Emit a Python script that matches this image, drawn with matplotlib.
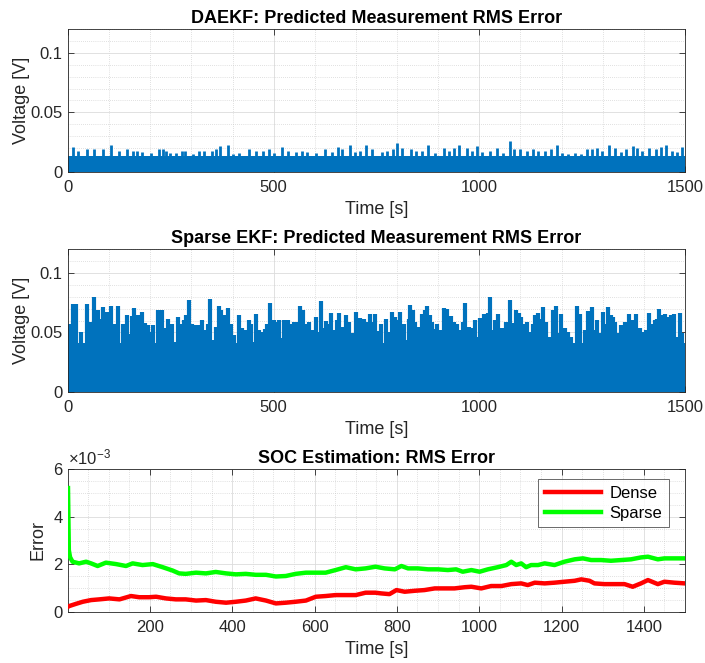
import matplotlib
matplotlib.use("Agg")
import matplotlib.pyplot as plt
from matplotlib.ticker import MultipleLocator, FixedLocator
import numpy as np

plt.rcParams['font.family'] = ['Liberation Sans', 'DejaVu Sans']
plt.rcParams['mathtext.fontset'] = 'custom'
plt.rcParams['mathtext.rm'] = 'Liberation Sans'
plt.rcParams['mathtext.it'] = 'Liberation Sans:italic'

# ---------------- data ----------------
titles = ["DAEKF: Predicted Measurement RMS Error",
          "Sparse EKF: Predicted Measurement RMS Error",
          "SOC Estimation: RMS Error"]
volt_ticks = [0, 0.05, 0.1]
volt_ticklabels = ["0", "0.05", "0.1"]
time_ticks_top = [0, 500, 1000, 1500]
time_ticks_soc = [200, 400, 600, 800, 1000, 1200, 1400]
soc_ticks = [0, 2, 4, 6]          # x 1e-3

# DAEKF residual: dense band level and spike peaks
daekf_band_t = [0, 1500]
daekf_band_v = [0.0132, 0.0132]
daekf_spike_t = [11, 24, 45, 64, 86, 104, 124, 143, 157, 167, 181, 202, 221, 230, 238, 248, 263, 277, 285, 303,
                 319, 331, 349, 360, 369, 388, 400, 416, 439, 457, 473, 489, 501, 521, 536, 554, 568, 582, 602, 625,
                 641, 657, 667, 685, 698, 711, 725, 738, 763, 775, 791, 801, 811, 834, 847, 860, 874, 892, 913, 926,
                 939, 951, 969, 981, 994, 1007, 1026, 1042, 1058, 1074, 1085, 1098, 1115, 1131, 1143, 1159, 1174, 1190, 1202, 1216,
                 1233, 1247, 1261, 1273, 1285, 1298, 1316, 1329, 1345, 1357, 1373, 1384, 1396, 1412, 1429, 1441, 1453, 1468, 1480, 1492]
daekf_spike_v = [0.021, 0.018, 0.019, 0.0195, 0.019, 0.0225, 0.018, 0.019, 0.018, 0.018, 0.017, 0.016, 0.0195, 0.019, 0.018, 0.016, 0.016, 0.018, 0.018, 0.0155,
                 0.018, 0.018, 0.018, 0.0195, 0.022, 0.023, 0.015, 0.016, 0.0195, 0.018, 0.018, 0.019, 0.016, 0.021, 0.018, 0.017, 0.018, 0.017, 0.016, 0.019,
                 0.017, 0.021, 0.0195, 0.0225, 0.017, 0.018, 0.0225, 0.019, 0.017, 0.018, 0.0195, 0.0245, 0.020, 0.019, 0.018, 0.018, 0.0225, 0.016, 0.020, 0.018,
                 0.020, 0.0225, 0.020, 0.018, 0.022, 0.017, 0.018, 0.020, 0.016, 0.026, 0.019, 0.019, 0.018, 0.019, 0.018, 0.018, 0.019, 0.023, 0.016, 0.015,
                 0.016, 0.0155, 0.019, 0.0195, 0.020, 0.018, 0.023, 0.020, 0.017, 0.019, 0.022, 0.020, 0.018, 0.020, 0.019, 0.021, 0.0225, 0.018, 0.017, 0.021]

# Sparse EKF residual: dense band level and spike peaks (time [s], voltage [V])
sparse_band_t = [0, 1500]
sparse_band_v = [0.041, 0.041]
sparse_spikes = [
    (2, 0.057), (10, 0.057), (13, 0.074), (19, 0.074), (32, 0.050), (45, 0.074), (56, 0.059), (64, 0.080),
    (74, 0.069), (80, 0.0615), (86, 0.0716), (91, 0.0588), (96, 0.067), (104, 0.0725), (113, 0.0574),
    (121, 0.0725), (133, 0.0574), (143, 0.0642), (149, 0.049), (156, 0.0634), (161, 0.0705), (169, 0.0642),
    (181, 0.067), (188, 0.058), (194, 0.056), (198, 0.0505), (206, 0.056), (218, 0.0692), (228, 0.0692),
    (234, 0.0533), (242, 0.0615), (253, 0.0574), (258, 0.0423), (267, 0.0629), (275, 0.0574), (283, 0.0607),
    (288, 0.0642), (293, 0.0771), (301, 0.0574), (311, 0.056), (319, 0.056), (326, 0.0607), (331, 0.0519),
    (340, 0.0574), (346, 0.078), (352, 0.0437), (360, 0.0547), (366, 0.0725), (372, 0.0684), (380, 0.0642),
    (388, 0.0705), (396, 0.0574), (404, 0.0478), (415, 0.0642), (423, 0.0533), (431, 0.0519), (439, 0.0607),
    (446, 0.0574), (453, 0.0423), (457, 0.0656), (465, 0.0519), (473, 0.0505), (480, 0.053), (485, 0.0574),
    (492, 0.0744), (502, 0.0607),
    (504, 0.0588), (512, 0.0601), (519, 0.0451), (524, 0.0607), (530, 0.0533), (536, 0.0607), (543, 0.0574),
    (549, 0.0588), (557, 0.0588), (563, 0.0725), (571, 0.0684), (577, 0.0574), (585, 0.0588), (593, 0.0519),
    (603, 0.0629), (609, 0.0505), (615, 0.076), (622, 0.0533), (627, 0.0596), (634, 0.0574), (640, 0.0662),
    (646, 0.0519), (654, 0.0601), (660, 0.0662), (666, 0.0547), (676, 0.0642), (682, 0.0588), (690, 0.0492),
    (699, 0.067), (705, 0.0574), (711, 0.0623), (719, 0.0615), (727, 0.0588), (735, 0.0656), (742, 0.0588),
    (747, 0.0651), (754, 0.0514), (762, 0.0569), (772, 0.0615), (778, 0.0505), (788, 0.067), (794, 0.0629),
    (800, 0.0601), (808, 0.067), (816, 0.0574), (823, 0.0437), (828, 0.0615), (832, 0.0733), (838, 0.0684),
    (844, 0.0588), (853, 0.0547), (861, 0.0656), (867, 0.0689), (873, 0.0725), (879, 0.0642), (885, 0.0588),
    (891, 0.0525), (897, 0.0574), (905, 0.0519), (913, 0.0705), (921, 0.0697), (930, 0.0634), (938, 0.0588),
    (946, 0.0574), (954, 0.0519), (960, 0.0588), (966, 0.0744), (974, 0.0547), (981, 0.0533), (989, 0.0601),
    (998, 0.0464),
    (1001, 0.0623), (1007, 0.0547), (1011, 0.0651), (1017, 0.0629), (1021, 0.0662), (1026, 0.080), (1031, 0.0519),
    (1037, 0.0607), (1045, 0.0656), (1054, 0.0533), (1060, 0.0492), (1066, 0.0588), (1074, 0.0771), (1080, 0.058),
    (1088, 0.0689), (1096, 0.0662), (1102, 0.0629), (1109, 0.0574), (1116, 0.0588), (1122, 0.0505), (1131, 0.0569),
    (1136, 0.0642), (1143, 0.0662), (1149, 0.0615), (1155, 0.0716), (1163, 0.0588), (1171, 0.0464), (1179, 0.0689),
    (1186, 0.0725), (1191, 0.0492), (1199, 0.0656), (1208, 0.0533), (1216, 0.0505), (1224, 0.0464), (1230, 0.0396),
    (1238, 0.0725), (1244, 0.0651), (1250, 0.0368), (1256, 0.0519), (1263, 0.0678), (1268, 0.0574), (1274, 0.0711),
    (1280, 0.0519), (1286, 0.0607), (1293, 0.0492), (1301, 0.067), (1306, 0.0574), (1313, 0.0716), (1319, 0.0642),
    (1325, 0.0629), (1331, 0.0588), (1337, 0.0492), (1345, 0.056), (1353, 0.0588), (1363, 0.0651), (1370, 0.0601),
    (1376, 0.0574), (1382, 0.0651), (1390, 0.0533), (1398, 0.0505), (1406, 0.0519), (1412, 0.0662), (1418, 0.0574),
    (1426, 0.0601), (1433, 0.0615), (1438, 0.0697), (1444, 0.0642), (1452, 0.0656), (1459, 0.0629), (1465, 0.0642),
    (1473, 0.0651), (1479, 0.0464), (1487, 0.0662), (1493, 0.0492), (1499, 0.041),
]

# SOC RMS error (units of 1e-3)
dense_t = [1, 4, 20, 37, 57, 77, 101, 126, 154, 174, 198, 215, 239, 263, 287, 312, 336, 360, 385, 409,
           433, 457, 482, 506, 530, 554, 579, 603, 627, 651, 676, 700, 724, 748,
           762, 782, 799, 819, 843, 867, 892, 916, 940, 965, 981, 1005, 1029, 1054, 1078, 1102, 1118, 1135, 1159, 1183,
           1207, 1232, 1248, 1268, 1280, 1304, 1329, 1353, 1373, 1393, 1410, 1434, 1450, 1474, 1500]
dense_v = [0.22, 0.25, 0.34, 0.43, 0.50, 0.53, 0.57, 0.53, 0.67, 0.62, 0.62, 0.64, 0.57, 0.53, 0.53, 0.48, 0.50, 0.43, 0.39, 0.43,
           0.48, 0.57, 0.48, 0.36, 0.39, 0.43, 0.48, 0.64, 0.67, 0.71, 0.71, 0.71, 0.81, 0.81,
           0.78, 0.75, 0.92, 0.85, 0.89, 0.92, 0.99, 0.99, 0.99, 1.04, 1.06, 0.99, 1.09, 1.09, 1.17, 1.20, 1.13, 1.23, 1.20, 1.23,
           1.27, 1.31, 1.37, 1.31, 1.20, 1.17, 1.17, 1.17, 1.06, 1.20, 1.34, 1.17, 1.27, 1.23, 1.20]
sparse_t = [1, 3, 6, 12, 28, 45, 57, 73, 93, 118, 142, 158, 182, 207, 231, 255, 271, 287, 312, 336, 360, 385, 409, 433,
            457, 482, 506, 530, 554, 579, 603, 627, 651, 676, 700, 724, 748, 770, 795, 811, 827, 851, 876, 900,
            924, 944, 960, 981, 1001, 1021, 1045, 1066, 1078, 1090, 1102, 1114, 1126, 1143, 1159, 1183, 1207, 1232, 1252, 1272,
            1296, 1320, 1345, 1369, 1393, 1410, 1434, 1450, 1474, 1500]
sparse_v = [5.2, 2.6, 2.3, 2.11, 2.04, 2.11, 2.04, 1.93, 2.07, 2.01, 1.93, 2.04, 1.97, 2.01, 1.88, 1.74, 1.62, 1.60, 1.65, 1.62, 1.68, 1.62, 1.58, 1.60,
            1.56, 1.56, 1.49, 1.51, 1.60, 1.65, 1.65, 1.65, 1.76, 1.88, 1.79, 1.83, 1.90, 1.83, 1.79, 1.93, 1.83, 1.83, 1.79, 1.79,
            1.76, 1.79, 1.69, 1.76, 1.69, 1.79, 1.88, 1.97, 2.11, 1.97, 2.04, 1.88, 1.97, 1.97, 2.04, 1.97, 2.11, 2.21, 2.25, 2.18,
            2.18, 2.15, 2.18, 2.21, 2.29, 2.32, 2.21, 2.25, 2.25, 2.25]
legend_labels = ["Dense", "Sparse"]

# ---------------- style ----------------
BLUE = '#0072BD'
AXC = '#262626'
FS = 12
FL = 13

fig = plt.figure(figsize=(7.05, 6.63), dpi=100)
L, W = 68 / 705, (685 - 68) / 705
H = 143 / 663
ax1 = fig.add_axes([L, 1 - 172 / 663, W, H])
ax2 = fig.add_axes([L, 1 - 392 / 663, W, H])
ax3 = fig.add_axes([L, 1 - 612 / 663, W, H])


def style(ax, xmin, xmax, ymax, xticks, xminor, yticks, yminor, ylabels=None):
    ax.set_xlim(xmin, xmax)
    ax.set_ylim(0, ymax)
    ax.xaxis.set_major_locator(FixedLocator(xticks))
    ax.xaxis.set_minor_locator(MultipleLocator(xminor))
    ax.yaxis.set_major_locator(FixedLocator(yticks))
    ax.yaxis.set_minor_locator(MultipleLocator(yminor))
    ax.set_xticklabels([str(v) for v in xticks])
    if ylabels is not None:
        ax.set_yticklabels(ylabels)
    else:
        ax.set_yticklabels([str(v) for v in yticks])
    ax.grid(True, which='major', color='#dcdcdc', lw=0.6, ls='-')
    ax.grid(True, which='minor', color='#c4c4c4', lw=0.5, ls=(0, (1, 2)))
    ax.set_axisbelow(True)
    ax.tick_params(axis='x', which='major', pad=6)
    ax.tick_params(axis='y', which='major', pad=4)
    ax.tick_params(which='major', direction='in', length=4, width=0.6, color=AXC,
                   top=True, right=True, labelsize=FS, labelcolor=AXC)
    ax.tick_params(which='minor', length=0)
    for s in ax.spines.values():
        s.set_color(AXC)
        s.set_linewidth(0.6)
    ax.set_xlabel("Time [s]", fontsize=FL, color=AXC, labelpad=4)


# Panel 1
ax1.fill_between(daekf_band_t, 0, daekf_band_v, color=BLUE, lw=0, zorder=2)
ax1.vlines(daekf_spike_t, 0, daekf_spike_v, color=BLUE, lw=2.0, zorder=2)
style(ax1, 0, 1500, 0.12, time_ticks_top, 100, volt_ticks, 0.01, volt_ticklabels)
ax1.set_ylabel("Voltage [V]", fontsize=FL, color=AXC, labelpad=0)
ax1.set_title(titles[0], fontsize=FL, fontweight='bold', pad=4)

# Panel 2
sp_t = [p[0] for p in sparse_spikes]
sp_v = [p[1] for p in sparse_spikes]
ax2.fill_between(sparse_band_t, 0, sparse_band_v, color=BLUE, lw=0, zorder=2)
ax2.vlines(sp_t, 0, sp_v, color=BLUE, lw=3.0, zorder=2)
style(ax2, 0, 1500, 0.12, time_ticks_top, 100, volt_ticks, 0.01, volt_ticklabels)
ax2.set_ylabel("Voltage [V]", fontsize=FL, color=AXC, labelpad=0)
ax2.set_title(titles[1], fontsize=FL, fontweight='bold', pad=4)

# Panel 3
d = np.array(dense_v) * 1e-3
s = np.array(sparse_v) * 1e-3
ax3.plot(dense_t, d, color='#FF0000', lw=3.2, label=legend_labels[0], zorder=3)
ax3.plot(sparse_t, s, color='#00FF00', lw=3.2, label=legend_labels[1], zorder=3)
style(ax3, 1, 1500, 6e-3, time_ticks_soc, 50, [v * 1e-3 for v in soc_ticks], 0.5e-3,
      [str(v) for v in soc_ticks])
ax3.set_ylabel("Error", fontsize=FL, color=AXC, labelpad=5)
ax3.set_title(titles[2], fontsize=FL, fontweight='bold', pad=4)
ax3.text(0.0, 1.01, r"$\times10^{-3}$", transform=ax3.transAxes, fontsize=FS, color=AXC,
         ha='left', va='bottom')
leg = ax3.legend(loc='upper right', fontsize=FS, frameon=True, fancybox=False,
                 edgecolor=AXC, handlelength=3.4, borderpad=0.4, labelspacing=0.3,
                 handletextpad=0.5, borderaxespad=0, bbox_to_anchor=(0.974, 0.93))
leg.get_frame().set_linewidth(0.6)

fig.savefig("out.png", dpi=100)
